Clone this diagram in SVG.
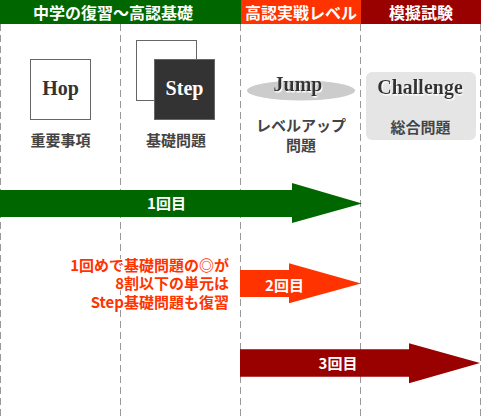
<svg xmlns="http://www.w3.org/2000/svg" width="481" height="419" viewBox="0 0 481 419">
<defs>
<style>
.jp{font-family:"Noto Sans CJK JP","Noto Sans",sans-serif;font-weight:bold}
.hd{fill:#fff;font-size:16px;text-anchor:middle}
.lbl{fill:#444;font-size:15px;text-anchor:middle}
.arr{fill:#fff;font-size:15px;text-anchor:middle}
.note{fill:#ff3300;font-size:15px;text-anchor:end;stroke:#fff;stroke-width:2.5px;stroke-linejoin:round;paint-order:stroke}
.ser{font-family:"Liberation Serif","DejaVu Serif",serif;font-weight:bold;text-anchor:middle}
.dash{stroke:#999;stroke-width:1;stroke-dasharray:7,4;fill:none}
.box{stroke:#666;stroke-width:1}
</style>
<filter id="sh" x="-10%" y="-20%" width="130%" height="150%">
<feDropShadow dx="1" dy="1.5" stdDeviation="0.3" flood-color="#fff" flood-opacity="1"/>
</filter>
</defs>
<rect width="481" height="419" fill="#fff"/>
<g id="grid">
<line class="dash" x1="0.5" y1="24" x2="0.5" y2="419"/>
<line class="dash" x1="120.5" y1="24" x2="120.5" y2="419"/>
<line class="dash" x1="240.5" y1="24" x2="240.5" y2="419"/>
<line class="dash" x1="360.5" y1="24" x2="360.5" y2="419"/>
<line class="dash" x1="480.5" y1="24" x2="480.5" y2="419"/>
</g>
<g id="header">
<rect x="0" y="0" width="241" height="24" fill="#006600"/>
<rect x="241" y="0" width="120" height="24" fill="#ff3300"/>
<rect x="361" y="0" width="120" height="24" fill="#990000"/>
<text class="jp hd" x="113" y="19">中学の復習～高認基礎</text>
<text class="jp hd" x="301" y="19">高認実戦レベル</text>
<text class="jp hd" x="421" y="19">模擬試験</text>
</g>
<g id="hop">
<rect class="box" x="30.5" y="59.5" width="60" height="60" fill="#fff"/>
<text class="ser" x="60.5" y="95" font-size="20" fill="#333">Hop</text>
<text class="jp lbl" x="60.5" y="146">重要事項</text>
</g>
<g id="step">
<rect class="box" x="136.5" y="40.5" width="60" height="60" fill="#fff"/>
<rect class="box" x="154.5" y="59.5" width="60" height="60" fill="#333"/>
<text class="ser" x="184.5" y="95" font-size="20" fill="#fff">Step</text>
<text class="jp lbl" x="176" y="146">基礎問題</text>
</g>
<g id="jump">
<ellipse cx="301" cy="90.5" rx="54" ry="10" fill="#ccc"/>
<text class="ser" x="298" y="91" font-size="20" fill="#333" filter="url(#sh)">Jump</text>
<text class="jp lbl" x="301" y="131">レベルアップ</text>
<text class="jp lbl" x="301" y="151">問題</text>
</g>
<g id="challenge">
<rect x="366" y="72" width="110" height="68" rx="6" fill="#e5e5e5"/>
<text class="ser" x="420" y="94" font-size="20" fill="#333" filter="url(#sh)">Challenge</text>
<text class="jp lbl" x="420.5" y="133">総合問題</text>
</g>
<g id="connectors">
<polygon points="0,190 292,190 292,183 362,203.5 292,223 292,217 0,217" fill="#006600"/>
<polygon points="240,270 289,270 289,263.3 361,283.5 289,303.3 289,297 240,297" fill="#ff3300"/>
<polygon points="240,349.3 409,349.3 409,343.3 480,363 409,383.3 409,376.7 240,376.7" fill="#990000"/>
</g>
<g id="arrow-labels">
<text class="jp arr" x="166.5" y="209">1回目</text>
<text class="jp arr" x="284.5" y="290.5">2回目</text>
<text class="jp arr" x="338" y="369">3回目</text>
</g>
<g id="note">
<text class="jp note" x="229" y="270.5"><tspan x="229" y="270.5">1回めで基礎問題の◎が</tspan><tspan x="229" y="289">8割以下の単元は</tspan><tspan x="229" y="307.5">Step基礎問題も復習</tspan></text>
</g>
</svg>
